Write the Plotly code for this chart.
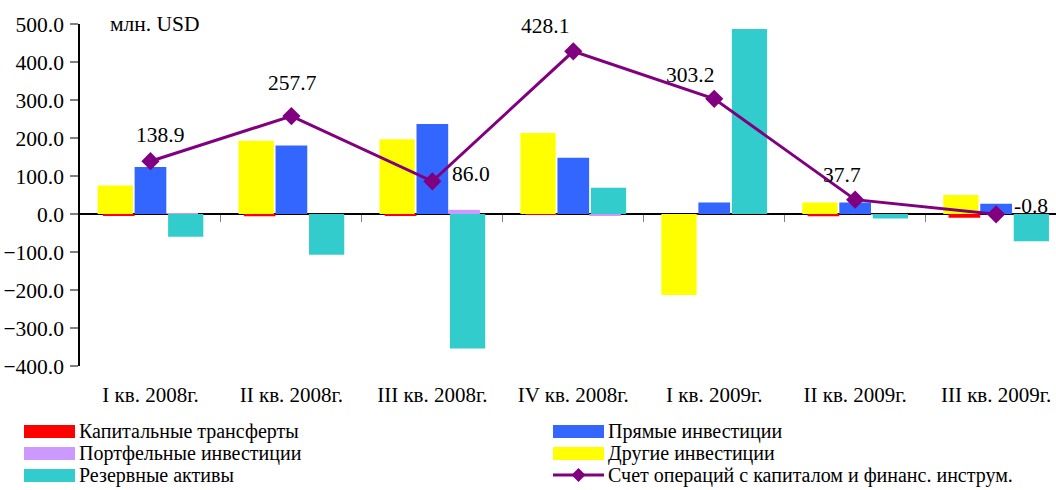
import plotly.graph_objects as go


categories = ["I кв. 2008г.", "II кв. 2008г.", "III кв. 2008г.", "IV кв. 2008г.",
              "I кв. 2009г.", "II кв. 2009г.", "III кв. 2009г."]

capital_transfers = [-3, -6, -4, -1, -1, -6, -10]
direct_inv = [124, 180, 237, 148, 30, 30, 27]
portfolio_inv = [2, 0, 11, -4, 0, -2, 0]
other_inv = [75, 193, 197, 213, -213, 30, 50]
reserve_assets = [-60, -107, -354, 69, 487, -12, -72]
capital_account = [138.9, 257.7, 86.0, 428.1, 303.2, 37.7, -0.8]

names = ["Капитальные трансферты", "Прямые инвестиции", "Портфельные инвестиции",
         "Другие инвестиции", "Резервные активы",
         "Счет операций с капиталом и финанс. инструм."]

FONT = "Liberation Serif, Times New Roman, DejaVu Serif, serif"
FS = 21.5

# label offsets (px) for the line values
label_dx = [10, 1, 39, -28, -24, -13, 35]
label_dy = [26, 33, 7, 25, 24, 25, 8]

fig = go.Figure()


# primary cluster: red / blue / purple, narrower bars
primary = [
    (capital_transfers, names[0], "#FF0000", -0.3375),
    (direct_inv, names[1], "#3366FF", -0.1125),
    (portfolio_inv, names[2], "#CC99FF", 0.1125),
]
for vals, name, color, off in primary:
    fig.add_trace(go.Bar(
        x=categories, y=vals, name=name,
        marker=dict(color=color, line=dict(width=0)),
        width=0.225, offset=off, opacity=1, showlegend=False
    ))

# secondary cluster: yellow / teal, wider bars
secondary = [
    (other_inv, names[3], "#FFFF00", -0.375),
    (reserve_assets, names[4], "#33CCCC", 0.125),
]
for vals, name, color, off in secondary:
    fig.add_trace(go.Bar(
        x=categories, y=vals, name=name,
        marker=dict(color=color, line=dict(width=0)),
        width=0.25, offset=off, opacity=1, showlegend=False
    ))


# capital account line
fig.add_trace(go.Scatter(
    x=categories, y=capital_account, name=names[5],
    mode="lines+markers",
    line=dict(color="#800080", width=3),
    marker=dict(symbol="diamond", size=14, color="#800080"),
    showlegend=False
))

for cat, v, dx, dy in zip(categories, capital_account, label_dx, label_dy):
    fig.add_annotation(
        x=cat, y=v, text=f"{v:.1f}", showarrow=False,
        xshift=dx, yshift=dy,
        font=dict(family=FONT, size=FS, color="black")
    )

# invisible trace so the tick axis at zero gets drawn
fig.add_trace(go.Scatter(x=[None], y=[None], xaxis="x2", showlegend=False, hoverinfo="skip"))


# plot area in page pixels
L, T, W, H = 80, 24, 976, 342


def px(xp):
    return (xp - L) / W


def py(yp):
    return (T + H - yp) / H


legend_items = [
    (names[0], "#FF0000", 24, 431, "bar"),
    (names[2], "#CC99FF", 24, 453, "bar"),
    (names[4], "#33CCCC", 24, 475, "bar"),
    (names[1], "#3366FF", 553, 431, "bar"),
    (names[3], "#FFFF00", 553, 453, "bar"),
    (names[5], "#800080", 553, 475, "line"),
]
for name, color, x0, yc, kind in legend_items:
    if kind == "bar":
        fig.add_shape(type="rect", xref="paper", yref="paper",
                      x0=px(x0), x1=px(x0 + 51), y0=py(yc + 7), y1=py(yc - 6),
                      fillcolor=color, line=dict(width=0))
    else:
        fig.add_shape(type="line", xref="paper", yref="paper",
                      x0=px(x0), x1=px(x0 + 51), y0=py(yc), y1=py(yc),
                      line=dict(color=color, width=3))
        xm = x0 + 25.5
        fig.add_shape(type="path", xref="paper", yref="paper",
                      path=f"M {px(xm - 7)} {py(yc)} L {px(xm)} {py(yc - 7)} "
                           f"L {px(xm + 7)} {py(yc)} L {px(xm)} {py(yc + 7)} Z",
                      fillcolor=color, line=dict(width=0))
    fig.add_annotation(x=px(x0 + 54), y=py(yc), xref="paper", yref="paper",
                       text=name, showarrow=False, xanchor="left", yanchor="middle",
                       borderpad=0,
                       font=dict(family=FONT, size=20, color="black"))

fig.add_annotation(x=px(108), y=500, xref="paper", yref="y", text="млн. USD",
                   showarrow=False, xanchor="left", yanchor="middle",
                   font=dict(family=FONT, size=FS, color="black"))


fig.update_layout(
    width=1056, height=490,
    margin=dict(l=L, r=0, t=T, b=490 - T - H),
    barmode="overlay",
    plot_bgcolor="white", paper_bgcolor="white",
    font=dict(family=FONT, size=FS, color="black"),
    xaxis=dict(
        type="category", range=[-0.5, 6.425], automargin=False,
        tickfont=dict(size=21),
        showline=False, showgrid=False, zeroline=False,
        ticks="", ticklabelstandoff=14
    ),
    xaxis2=dict(
        overlaying="x", anchor="free", position=400 / 900, automargin=False,
        range=[-0.5, 6.425], tickvals=[0.5, 1.5, 2.5, 3.5, 4.5, 5.5],
        ticks="outside", ticklen=7, tickcolor="#808080", tickwidth=1,
        showticklabels=False, showgrid=False, zeroline=False, showline=False
    ),
    yaxis=dict(
        range=[-400, 500], tickvals=list(range(-400, 501, 100)),
        tickformat=".1f", showgrid=False, automargin=False,
        tickfont=dict(size=21.5),
        showline=True, linecolor="black", linewidth=1.5,
        ticks="outside", ticklen=8, tickcolor="#808080", tickwidth=1.5,
        zeroline=True, zerolinecolor="black", zerolinewidth=2,
        ticklabelstandoff=2
    ),
)

# drop the browser's default body margin so the figure sits at the page corner
fig.write_html("out.html", config={"displayModeBar": False},
               post_script="document.body.style.margin='0';")
